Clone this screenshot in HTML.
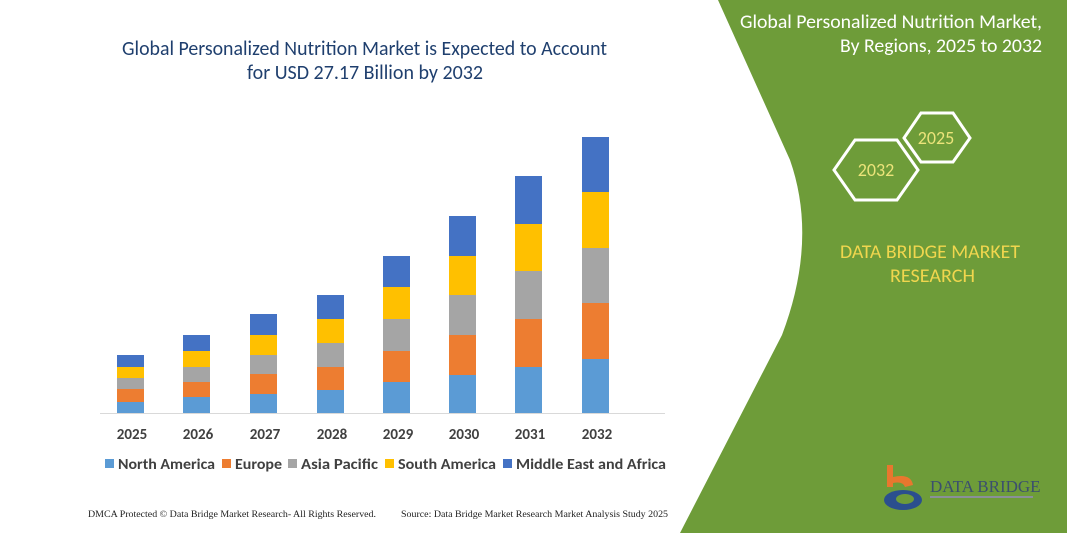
<!DOCTYPE html>
<html><head><meta charset="utf-8"><style>
body{margin:0;width:1067px;height:533px;overflow:hidden;background:#fff;font-family:Carlito,"Liberation Sans",sans-serif;}
</style></head><body>
<svg width="1067" height="533" viewBox="0 0 1067 533" xmlns="http://www.w3.org/2000/svg" style="position:absolute;left:0;top:0">
<path d="M718,0 L1067,0 L1067,533 L680,533 L782,335 Q818,240 790,160 Z" fill="#6e9c39"/>
<g font-family="Carlito,'Liberation Sans',sans-serif">
<text x="122" y="55" font-size="20" fill="#1f3f6e" textLength="485" lengthAdjust="spacingAndGlyphs">Global Personalized Nutrition Market is Expected to Account</text>
<text x="247" y="79" font-size="20" fill="#1f3f6e" textLength="236" lengthAdjust="spacingAndGlyphs">for USD 27.17 Billion by 2032</text>
</g>
<line x1="100" y1="413.5" x2="665" y2="413.5" stroke="#d9d9d9" stroke-width="1"/>
<g>
<rect x="117" y="402" width="27" height="11" fill="#5b9bd5"/><rect x="117" y="389" width="27" height="13" fill="#ed7d31"/><rect x="117" y="378" width="27" height="11" fill="#a5a5a5"/><rect x="117" y="367" width="27" height="11" fill="#ffc000"/><rect x="117" y="355" width="27" height="12" fill="#4472c4"/>
<rect x="183" y="397" width="27" height="16" fill="#5b9bd5"/><rect x="183" y="382" width="27" height="15" fill="#ed7d31"/><rect x="183" y="367" width="27" height="15" fill="#a5a5a5"/><rect x="183" y="351" width="27" height="16" fill="#ffc000"/><rect x="183" y="335" width="27" height="16" fill="#4472c4"/>
<rect x="250" y="394" width="27" height="19" fill="#5b9bd5"/><rect x="250" y="374" width="27" height="20" fill="#ed7d31"/><rect x="250" y="355" width="27" height="19" fill="#a5a5a5"/><rect x="250" y="335" width="27" height="20" fill="#ffc000"/><rect x="250" y="314" width="27" height="21" fill="#4472c4"/>
<rect x="317" y="390" width="27" height="23" fill="#5b9bd5"/><rect x="317" y="367" width="27" height="23" fill="#ed7d31"/><rect x="317" y="343" width="27" height="24" fill="#a5a5a5"/><rect x="317" y="319" width="27" height="24" fill="#ffc000"/><rect x="317" y="295" width="27" height="24" fill="#4472c4"/>
<rect x="383" y="382" width="27" height="31" fill="#5b9bd5"/><rect x="383" y="351" width="27" height="31" fill="#ed7d31"/><rect x="383" y="319" width="27" height="32" fill="#a5a5a5"/><rect x="383" y="287" width="27" height="32" fill="#ffc000"/><rect x="383" y="256" width="27" height="31" fill="#4472c4"/>
<rect x="449" y="375" width="27" height="38" fill="#5b9bd5"/><rect x="449" y="335" width="27" height="40" fill="#ed7d31"/><rect x="449" y="295" width="27" height="40" fill="#a5a5a5"/><rect x="449" y="256" width="27" height="39" fill="#ffc000"/><rect x="449" y="216" width="27" height="40" fill="#4472c4"/>
<rect x="515" y="367" width="27" height="46" fill="#5b9bd5"/><rect x="515" y="319" width="27" height="48" fill="#ed7d31"/><rect x="515" y="271" width="27" height="48" fill="#a5a5a5"/><rect x="515" y="224" width="27" height="47" fill="#ffc000"/><rect x="515" y="176" width="27" height="48" fill="#4472c4"/>
<rect x="582" y="359" width="27" height="54" fill="#5b9bd5"/><rect x="582" y="303" width="27" height="56" fill="#ed7d31"/><rect x="582" y="248" width="27" height="55" fill="#a5a5a5"/><rect x="582" y="192" width="27" height="56" fill="#ffc000"/><rect x="582" y="137" width="27" height="55" fill="#4472c4"/>
</g>
<g font-size="15" font-weight="bold" fill="#404040" text-anchor="middle" font-family="Carlito,'Liberation Sans',sans-serif">
<text x="132" y="439">2025</text><text x="198" y="439">2026</text><text x="265" y="439">2027</text><text x="332" y="439">2028</text><text x="398" y="439">2029</text><text x="464" y="439">2030</text><text x="530" y="439">2031</text><text x="597" y="439">2032</text>
</g>
<g font-size="15" font-weight="bold" fill="#404040" font-family="Carlito,'Liberation Sans',sans-serif" lengthAdjust="spacingAndGlyphs">
<rect x="105" y="459" width="9" height="9" fill="#5b9bd5"/><text x="118" y="469" textLength="97" lengthAdjust="spacingAndGlyphs">North America</text>
<rect x="222" y="459" width="9" height="9" fill="#ed7d31"/><text x="235" y="469" textLength="47" lengthAdjust="spacingAndGlyphs">Europe</text>
<rect x="288" y="459" width="9" height="9" fill="#a5a5a5"/><text x="301" y="469" textLength="77" lengthAdjust="spacingAndGlyphs">Asia Pacific</text>
<rect x="385" y="459" width="9" height="9" fill="#ffc000"/><text x="398" y="469" textLength="98" lengthAdjust="spacingAndGlyphs">South America</text>
<rect x="503" y="459" width="9" height="9" fill="#4472c4"/><text x="516" y="469" textLength="150" lengthAdjust="spacingAndGlyphs">Middle East and Africa</text>
</g>
<text x="88" y="517" font-size="9.5" fill="#222" font-family="'Liberation Serif',serif" textLength="288" lengthAdjust="spacingAndGlyphs">DMCA Protected © Data Bridge Market Research-  All Rights Reserved.</text>
<text x="401" y="517" font-size="9.5" fill="#222" font-family="'Liberation Serif',serif" textLength="267" lengthAdjust="spacingAndGlyphs">Source: Data Bridge Market Research  Market Analysis Study 2025</text>
<g font-family="Carlito,'Liberation Sans',sans-serif">
<text x="740" y="28" font-size="19" fill="#fff" textLength="302" lengthAdjust="spacingAndGlyphs">Global Personalized Nutrition Market,</text>
<text x="840" y="52" font-size="19" fill="#fff" textLength="202" lengthAdjust="spacingAndGlyphs">By Regions, 2025 to 2032</text>
</g>
<polygon points="834,170 855,140 897,140 918,170 897,200 855,200" fill="none" stroke="#fff" stroke-width="3"/>
<polygon points="904,138 921,113 953,113 970,138 953,162 921,162" fill="none" stroke="#fff" stroke-width="3"/>
<text x="876" y="176" font-size="18" fill="#ece47a" text-anchor="middle" font-family="Carlito,'Liberation Sans',sans-serif">2032</text>
<text x="936" y="144" font-size="18" fill="#ece47a" text-anchor="middle" font-family="Carlito,'Liberation Sans',sans-serif">2025</text>
<text x="840" y="258" font-size="19" fill="#f0d64e" font-family="Carlito,'Liberation Sans',sans-serif" textLength="180" lengthAdjust="spacingAndGlyphs">DATA BRIDGE MARKET</text>
<text x="890" y="282" font-size="19" fill="#f0d64e" font-family="Carlito,'Liberation Sans',sans-serif" textLength="85" lengthAdjust="spacingAndGlyphs">RESEARCH</text>
<rect x="887" y="465" width="6" height="22" fill="#e8772e"/>
<path d="M893,477 q18,-4 20,8 l-8,2 q-2,-6 -12,-4z" fill="#e8772e"/>
<ellipse cx="903" cy="500" rx="19" ry="10" fill="#2b4f8e"/>
<ellipse cx="905" cy="499" rx="9" ry="5" fill="#6e9c39"/>
<text x="930" y="492" font-size="17" fill="#3b4f6e" font-family="'Liberation Serif',serif">DATA BRIDGE</text>
<line x1="930" y1="497" x2="1033" y2="497" stroke="#8a8f99" stroke-width="2"/>
</svg>
</body></html>
